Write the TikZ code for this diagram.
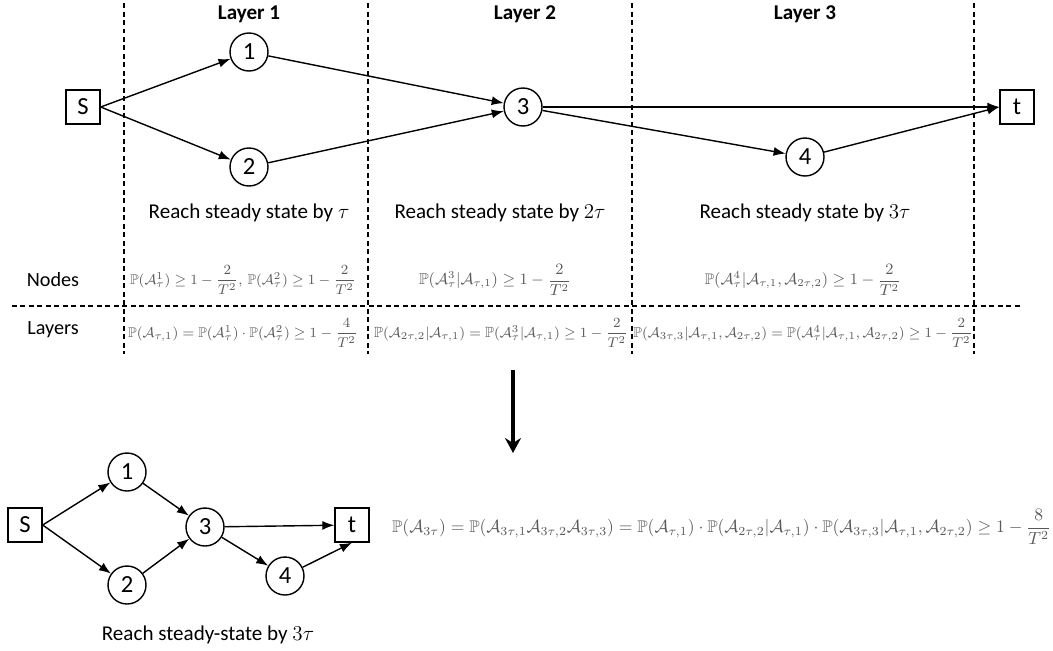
\documentclass[tikz,border=0pt]{standalone}
\usepackage{amsmath,amssymb}
\usepackage{fontspec}
\setmainfont{Carlito}
\usetikzlibrary{arrows.meta}

\tikzset{
	vert/.style={circle,draw,line width=0.8pt,minimum size=0.76cm,inner sep=0pt,font=\fontsize{14}{14}\selectfont},
	term/.style={rectangle,draw,line width=0.8pt,minimum size=0.68cm,inner sep=0pt,font=\fontsize{14}{14}\selectfont},
	link/.style={-{Latex[length=2.4mm,width=1.8mm]},line width=0.8pt},
	layersep/.style={line width=0.7pt,dash pattern=on 1mm off 0.7mm},
	head/.style={font=\fontsize{12}{14}\selectfont\bfseries},
	lbl/.style={font=\fontsize{12}{14}\selectfont},
	rowlbl/.style={font=\fontsize{11.5}{14}\selectfont},
	prob/.style={text=black!65,font=\fontsize{#1}{#1}\selectfont,inner sep=1pt},
	prob/.default=9,
}

\begin{document}
\begin{tikzpicture}[x=0.02cm,y=-0.02cm]
	\useasboundingbox (0,0) rectangle (1053,650);

	% DASHED GRID
	\foreach \xx in {124,368,632,974}
		\draw[layersep] (\xx,3) -- (\xx,354);
	\draw[layersep] (12,306) -- (1020,306);

	% LAYERED GRAPH
	\node[term] (s) at (83,107) {S};
	\node[vert] (n1) at (249,52) {1};
	\node[vert] (n2) at (249,167) {2};
	\node[vert] (n3) at (523,107) {3};
	\node[vert] (n4) at (805,157) {4};
	\node[term] (t) at (1017,107) {t};
	\draw[link] (s.east) -- (n1);
	\draw[link] (s.east) -- (n2);
	\draw[link] (n1) -- (n3);
	\draw[link] (n2) -- (n3);
	\draw[link] (n3) -- (t);
	\draw[link] (n3) -- (n4);
	\draw[link] (n4) -- (t.west);

	\node[head] (h1) at (249,14) {Layer 1};
	\node[head] (h2) at (525,14) {Layer 2};
	\node[head] (h3) at (805,14) {Layer 3};

	\node[lbl] (r1) at (249,213) {Reach steady state by $\tau$};
	\node[lbl] (r2) at (500,213) {Reach steady state by $2\tau$};
	\node[lbl] (r3) at (805,213) {Reach steady state by $3\tau$};

	% NODE AND LAYER BOUNDS
	\node[rowlbl] (nodes) at (53,280) {Nodes};
	\node[rowlbl] (layers) at (53,330) {Layers};
	\node[prob=8] (p1) at (243,280) {$\mathbb{P}(\mathcal{A}^1_\tau)\geq 1-\dfrac{2}{T^2},\,\mathbb{P}(\mathcal{A}^2_\tau)\geq 1-\dfrac{2}{T^2}$};
	\node[prob=9] (p2) at (495,280) {$\mathbb{P}(\mathcal{A}^3_\tau|\mathcal{A}_{\tau,1})\geq 1-\dfrac{2}{T^2}$};
	\node[prob=8.7] (p3) at (803,280) {$\mathbb{P}(\mathcal{A}^4_\tau|\mathcal{A}_{\tau,1},\mathcal{A}_{2\tau,2})\geq 1-\dfrac{2}{T^2}$};
	\node[prob=8] (q1) at (243,333) {$\mathbb{P}(\mathcal{A}_{\tau,1})=\mathbb{P}(\mathcal{A}^1_\tau)\cdot\mathbb{P}(\mathcal{A}^2_\tau)\geq 1-\dfrac{4}{T^2}$};
	\node[prob=8.4] (q2) at (501,333) {$\mathbb{P}(\mathcal{A}_{2\tau,2}|\mathcal{A}_{\tau,1})=\mathbb{P}(\mathcal{A}^3_\tau|\mathcal{A}_{\tau,1})\geq 1-\dfrac{2}{T^2}$};
	\node[prob=8.1] (q3) at (803,333) {$\mathbb{P}(\mathcal{A}_{3\tau,3}|\mathcal{A}_{\tau,1},\mathcal{A}_{2\tau,2})=\mathbb{P}(\mathcal{A}^4_\tau|\mathcal{A}_{\tau,1},\mathcal{A}_{2\tau,2})\geq 1-\dfrac{2}{T^2}$};

	% DOWN ARROW
	\coordinate (dtop) at (513,370);
	\coordinate (dbot) at (513,453);
	\draw[-{Stealth[length=3mm,width=3.2mm,inset=1mm]},line width=2pt] (dtop) -- (dbot);

	% COMPACT GRAPH
	\node[term] (bs) at (25,525) {S};
	\node[vert] (b1) at (127,472) {1};
	\node[vert] (b2) at (127,585) {2};
	\node[vert] (b3) at (205,527) {3};
	\node[vert] (b4) at (285,576) {4};
	\node[term] (bt) at (352,525) {t};
	\draw[link] (bs.east) -- (b1);
	\draw[link] (bs.east) -- (b2);
	\draw[link] (b1) -- (b3);
	\draw[link] (b2) -- (b3);
	\draw[link] (b3) -- (bt);
	\draw[link] (b3) -- (b4);
	\draw[link] (b4) -- (bt.south);
	\node[lbl] (rb) at (208,635) {Reach steady-state by $3\tau$};

	\node[prob=9.6,anchor=west] (tot) at (390,527) {$\mathbb{P}(\mathcal{A}_{3\tau})=\mathbb{P}(\mathcal{A}_{3\tau,1}\mathcal{A}_{3\tau,2}\mathcal{A}_{3\tau,3})=\mathbb{P}(\mathcal{A}_{\tau,1})\cdot\mathbb{P}(\mathcal{A}_{2\tau,2}|\mathcal{A}_{\tau,1})\cdot\mathbb{P}(\mathcal{A}_{3\tau,3}|\mathcal{A}_{\tau,1},\mathcal{A}_{2\tau,2})\geq 1-\dfrac{8}{T^2}$};
\end{tikzpicture}
\end{document}
